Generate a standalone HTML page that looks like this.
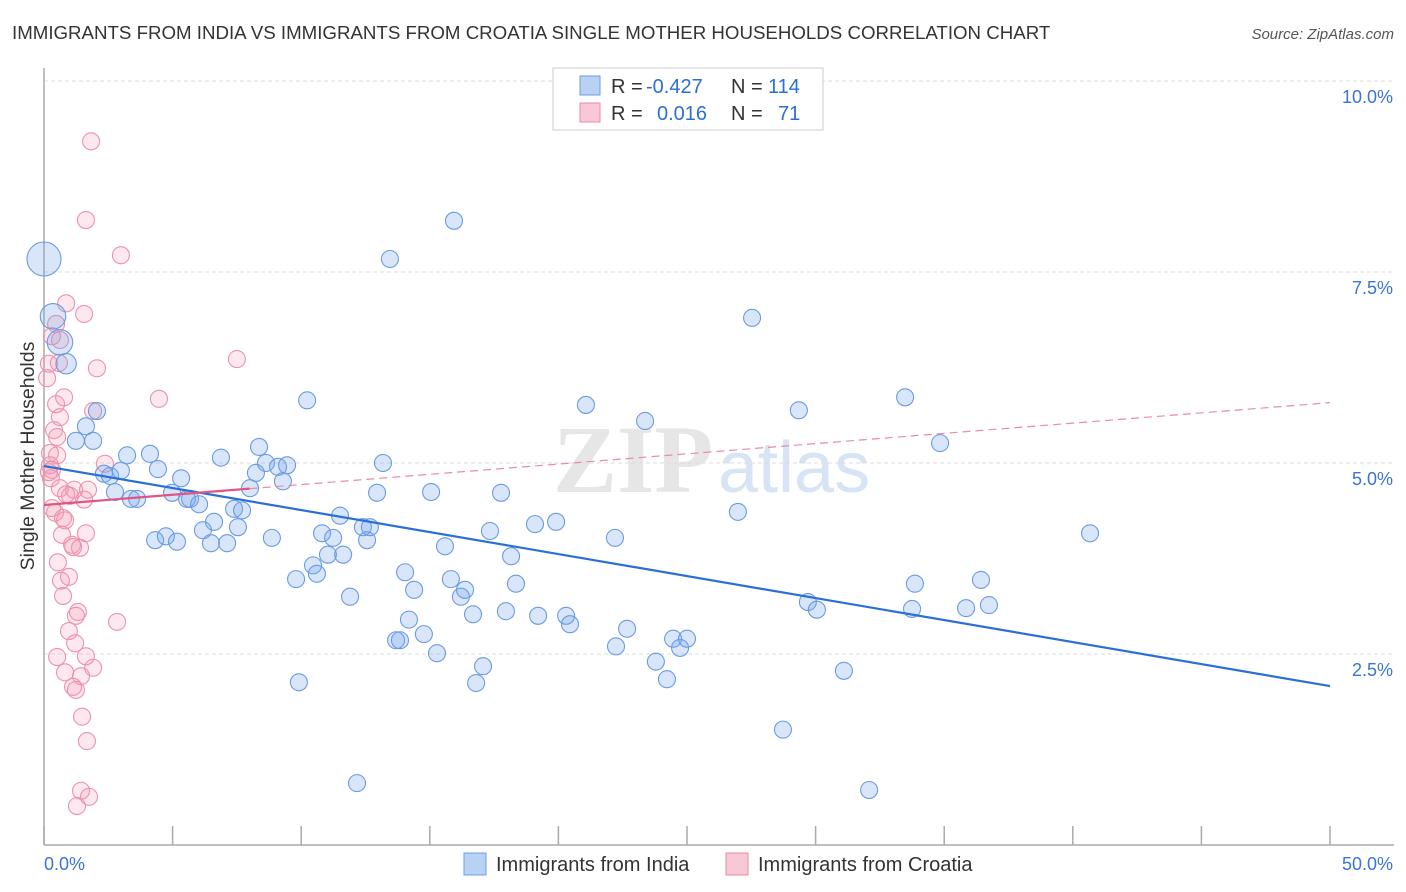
<!DOCTYPE html>
<html><head><meta charset="utf-8">
<style>
body{margin:0;background:#fff;font-family:"Liberation Sans",sans-serif;}
#wrap{position:relative;width:1406px;height:892px;overflow:hidden;}
</style></head>
<body>
<div id="wrap">
<svg id="chart" width="1406" height="892" xmlns="http://www.w3.org/2000/svg">
<text x="12" y="39" font-size="18.7" fill="#333">IMMIGRANTS FROM INDIA VS IMMIGRANTS FROM CROATIA SINGLE MOTHER HOUSEHOLDS CORRELATION CHART</text>
<text x="1394" y="39" font-size="15" fill="#555" font-style="italic" text-anchor="end">Source: ZipAtlas.com</text>
<g>
<text x="553" y="492" font-size="96" font-weight="bold" fill="#e6e6e6" font-family="Liberation Serif,serif">ZIP</text>
<text x="718" y="492" font-size="72" fill="#d6e4f5">atlas</text>
</g>
<g id="grid"></g>
<g id="axes"></g>
<g id="pts"></g>
<g id="lines"></g>
<text transform="translate(34,456) rotate(-90)" font-size="19.5" fill="#333" text-anchor="middle">Single Mother Households</text>
<g>
<rect x="553" y="68" width="270" height="62" fill="#fff" stroke="#ccc"/>
<rect x="580" y="76" width="20" height="19" fill="#b9d1f3" stroke="#6f9de3"/>
<rect x="580" y="103" width="20" height="19" fill="#f8c8d6" stroke="#e98aa6"/>
<g font-size="20">
<text x="611" y="93" fill="#333">R =</text>
<text x="646" y="93" fill="#2a6fd6">-0.427</text>
<text x="731" y="93" fill="#333">N =</text>
<text x="768" y="93" fill="#2a6fd6">114</text>
</g>
<g font-size="20">
<text x="611" y="120" fill="#333">R =</text>
<text x="657" y="120" fill="#2a6fd6">0.016</text>
<text x="731" y="120" fill="#333">N =</text>
<text x="778" y="120" fill="#2a6fd6">71</text>
</g>
</g>
<g>
<rect x="464" y="853" width="22" height="22" fill="#b9d1f3" stroke="#6f9de3"/>
<text x="496" y="871" font-size="20" fill="#333">Immigrants from India</text>
<rect x="726" y="853" width="22" height="22" fill="#f8c8d6" stroke="#e98aa6"/>
<text x="758" y="871" font-size="20" fill="#333">Immigrants from Croatia</text>
</g>
</svg>
</div>
<script>
const indiaX=[0,0.35,0.62,0.86,2.06,1.24,1.63,1.91,2.33,2.57,2.99,3.23,2.76,3.38,3.62,4.12,4.43,5.33,4.98,5.56,5.68,6.03,4.32,4.74,5.17,6.18,6.61,6.49,7.12,6.88,7.54,7.39,7.70,8.01,8.24,8.36,8.63,9.10,9.45,9.29,8.86,9.80,9.91,10.23,10.46,10.61,10.81,11.04,11.24,11.51,11.63,11.90,12.17,12.40,12.56,12.67,12.95,13.18,13.45,14.04,14.19,14.39,13.69,13.84,14.77,15.05,15.28,15.59,15.82,16.21,16.37,16.68,16.80,17.07,15.94,17.34,17.77,17.96,18.16,18.35,19.09,19.21,19.91,20.30,20.45,21.07,22.20,22.24,22.67,23.37,23.79,24.22,24.46,24.73,25.00,26.98,27.53,28.73,29.35,29.70,30.05,31.10,32.08,33.48,33.75,33.86,34.84,35.85,36.43,36.74,40.67];
const indiaY=[7.67,6.92,6.58,6.30,5.68,5.29,5.48,5.29,4.86,4.83,4.90,5.10,4.62,4.53,4.53,5.12,4.92,4.80,4.61,4.53,4.53,4.46,3.99,4.04,3.97,4.12,4.23,3.95,3.95,5.07,4.16,4.40,4.38,4.67,4.87,5.21,5.00,4.95,4.97,4.76,4.02,3.48,2.13,5.82,3.66,3.55,4.08,3.80,4.02,4.31,3.80,3.25,0.81,4.16,3.99,4.16,4.61,5.00,7.67,3.57,2.95,3.34,2.68,2.68,2.76,4.62,2.51,3.91,3.48,3.25,3.34,3.02,2.12,2.34,8.17,4.11,4.61,3.06,3.78,3.42,4.20,3.00,4.23,3.00,2.89,5.76,4.02,2.60,2.83,5.55,2.40,2.17,2.70,2.58,2.70,4.36,6.90,1.51,5.69,3.18,3.08,2.28,0.72,5.86,3.09,3.42,5.26,3.10,3.47,3.14,4.08];
const indiaSize=[2,1.5,1.5,1.2];
const croatiaX=[1.83,1.63,2.99,7.50,0.86,0.47,1.56,0.62,0.31,0.19,0.12,2.06,0.58,4.47,0.78,1.91,0.47,0.62,0.39,0.51,0.23,0.51,0.23,0.31,0.19,0.27,2.37,0.62,0.86,1.17,1.71,1.01,1.56,0.31,0.43,0.74,0.82,0.70,1.09,1.63,1.40,0.54,1.13,0.97,0.66,0.74,1.32,1.24,2.84,0.97,1.21,0.51,1.63,0.82,1.91,1.44,1.13,1.24,1.48,1.67,1.44,1.75,1.28];
const croatiaY=[9.21,8.18,7.72,6.36,7.09,6.82,6.95,6.61,6.66,6.30,6.11,6.24,6.31,5.84,5.86,5.68,5.77,5.60,5.43,5.34,5.13,5.10,4.97,4.91,4.88,4.80,4.99,4.67,4.59,4.65,4.65,4.57,4.52,4.41,4.35,4.28,4.25,4.06,3.93,4.08,3.89,3.70,3.90,3.51,3.46,3.26,3.05,3.00,2.92,2.80,2.64,2.46,2.47,2.26,2.32,2.21,2.07,2.03,1.68,1.36,0.71,0.63,0.51];
const indiaTrend=[[0,4.96],[50,2.08]];
const croatiaTrend=[[0,4.45],[50,5.79]];
const croatiaSolidEnd=8.0;
const yTicks=[2.5,5.0,7.5,10.0];
const yTickLabels=["2.5%","5.0%","7.5%","10.0%"];
const xTicks=[0,5,10,15,20,25,30,35,40,45,50];

const NS="http://www.w3.org/2000/svg";
const X0=44,X1=1330,Y0=845,YPER=76.4;
function sx(v){return X0+(X1-X0)*v/50;}
function sy(v){return Y0-v*YPER;}
function mk(tag,attrs,parent){const e=document.createElementNS(NS,tag);for(const k in attrs)e.setAttribute(k,attrs[k]);parent.appendChild(e);return e;}
const grid=document.getElementById('grid'),axes=document.getElementById('axes'),pts=document.getElementById('pts'),lines=document.getElementById('lines');
yTicks.forEach((t,i)=>{
 const l=mk('line',{x1:X0,x2:1394,y1:sy(t),y2:sy(t),stroke:'#dcdcdc','stroke-dasharray':'4,3'},grid);
 
 
 const tx=mk('text',{x:1393,y:sy(t)+22,'font-size':18,fill:'#3a74d4','text-anchor':'end'},grid);
 tx.textContent=yTickLabels[i];
 
 
});
let a=mk('line',{x1:X0,x2:X0,y1:68,y2:Y0,stroke:'#aaa','stroke-width':1.5},axes);


a=mk('line',{x1:X0,x2:1394,y1:Y0,y2:Y0,stroke:'#aaa','stroke-width':1.5},axes);


xTicks.forEach(t=>{
 const l=mk('line',{x1:sx(t),x2:sx(t),y1:Y0-19,y2:Y0,stroke:'#aaa','stroke-width':1.5},axes);
 
 
});
let xl=mk('text',{x:44,y:870,'font-size':18,fill:'#3a74d4'},axes);xl.textContent='0.0%';


xl=mk('text',{x:1393,y:870,'font-size':18,fill:'#3a74d4','text-anchor':'end'},axes);xl.textContent='50.0%';


croatiaX.forEach((v,i)=>{
 const c=mk('circle',{cx:sx(v),cy:sy(croatiaY[i]),r:8.5,fill:'rgba(242,150,178,0.22)',stroke:'#ec92ad','stroke-width':1.1},pts);
 
 
});
indiaX.forEach((v,i)=>{
 const s=indiaSize[i]||1;
 const c=mk('circle',{cx:sx(v),cy:sy(indiaY[i]),r:8.5*s,fill:'rgba(120,165,235,0.28)',stroke:'#6a9be2','stroke-width':1.1},pts);
 
 
});
let t=mk('line',{x1:sx(indiaTrend[0][0]),y1:sy(indiaTrend[0][1]),x2:sx(indiaTrend[1][0]),y2:sy(indiaTrend[1][1]),stroke:'#2a6fd6','stroke-width':2.2},lines);


const cy=x=>croatiaTrend[0][1]+(croatiaTrend[1][1]-croatiaTrend[0][1])*(x-croatiaTrend[0][0])/(croatiaTrend[1][0]-croatiaTrend[0][0]);
t=mk('line',{x1:sx(0),y1:sy(cy(0)),x2:sx(croatiaSolidEnd),y2:sy(cy(croatiaSolidEnd)),stroke:'#e05583','stroke-width':2.2},lines);


t=mk('line',{x1:sx(croatiaSolidEnd),y1:sy(cy(croatiaSolidEnd)),x2:sx(50),y2:sy(cy(50)),stroke:'#e98aa6','stroke-width':1.2,'stroke-dasharray':'8,5'},lines);


</script>
</body></html>
